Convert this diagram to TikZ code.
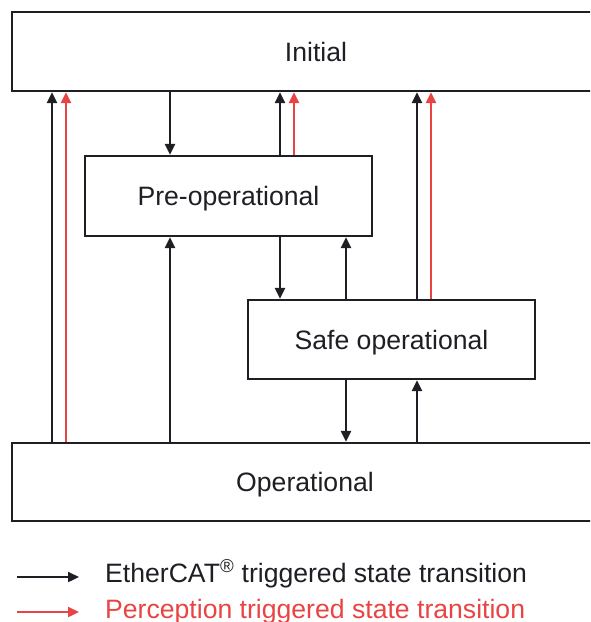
\documentclass[tikz,border=0pt]{standalone}
\usepackage{fontspec}
\setmainfont{Liberation Sans}
\usetikzlibrary{arrows.meta}
\definecolor{ink}{RGB}{30,30,36}
\definecolor{redline}{RGB}{232,68,68}
\begin{document}
\begin{tikzpicture}[x=1pt,y=-1pt,
  state/.style={draw=ink,line width=2.3pt,rectangle,inner sep=0pt,text=ink,
    text height=19pt,text depth=0pt,
    font=\fontsize{26.6}{30}\selectfont},
  arr/.style={draw=ink,line width=2.3pt,-{Triangle[length=11pt,width=10pt]}},
  rarr/.style={arr,draw=redline},
  legtext/.style={anchor=base west,inner sep=0pt,font=\fontsize{26.6}{30}\selectfont}]
\path[use as bounding box] (0,0) rectangle (590,622);
\clip (0,0) rectangle (590,622);
% states
\node[state,minimum width=608pt,minimum height=79pt] (init) at (316,51.5) {Initial};
\node[state,minimum width=287pt,minimum height=80pt] (pre) at (228.5,196) {Pre-operational};
\node[state,minimum width=287pt,minimum height=79pt] (safe) at (391.5,339.5) {Safe operational};
\node[state,minimum width=586pt,minimum height=78pt] (op) at (305,482) {Operational};
% column coordinates
\coordinate (xa) at (52,0);
\coordinate (xb) at (66,0);
\coordinate (xc) at (170,0);
\coordinate (xd) at (280,0);
\coordinate (xe) at (294,0);
\coordinate (xf) at (346,0);
\coordinate (xg) at (417,0);
\coordinate (xh) at (431,0);
% transitions
\draw[arr]  (op.north -| xa) -- (init.south -| xa);
\draw[rarr] (op.north -| xb) -- (init.south -| xb);
\draw[arr]  (init.south -| xc) -- (pre.north -| xc);
\draw[arr]  (pre.north -| xd) -- (init.south -| xd);
\draw[rarr] (pre.north -| xe) -- (init.south -| xe);
\draw[arr]  (op.north -| xc) -- (pre.south -| xc);
\draw[arr]  (pre.south -| xd) -- (safe.north -| xd);
\draw[arr]  (safe.north -| xf) -- (pre.south -| xf);
\draw[arr]  (safe.north -| xg) -- (init.south -| xg);
\draw[rarr] (safe.north -| xh) -- (init.south -| xh);
\draw[arr]  (safe.south -| xf) -- (op.north -| xf);
\draw[arr]  (op.north -| xg) -- (safe.south -| xg);
% legend
\coordinate (l1s) at (17,577);
\coordinate (l1e) at (79,577);
\coordinate (l2s) at (17,612);
\coordinate (l2e) at (79,612);
\draw[arr]  (l1s) -- (l1e);
\draw[rarr] (l2s) -- (l2e);
\node[legtext,text=ink] (leg1) at (105,582) {EtherCAT\textsuperscript{®} triggered state transition};
\node[legtext,text=redline] (leg2) at (105,618) {Perception triggered state transition};
\end{tikzpicture}
\end{document}
